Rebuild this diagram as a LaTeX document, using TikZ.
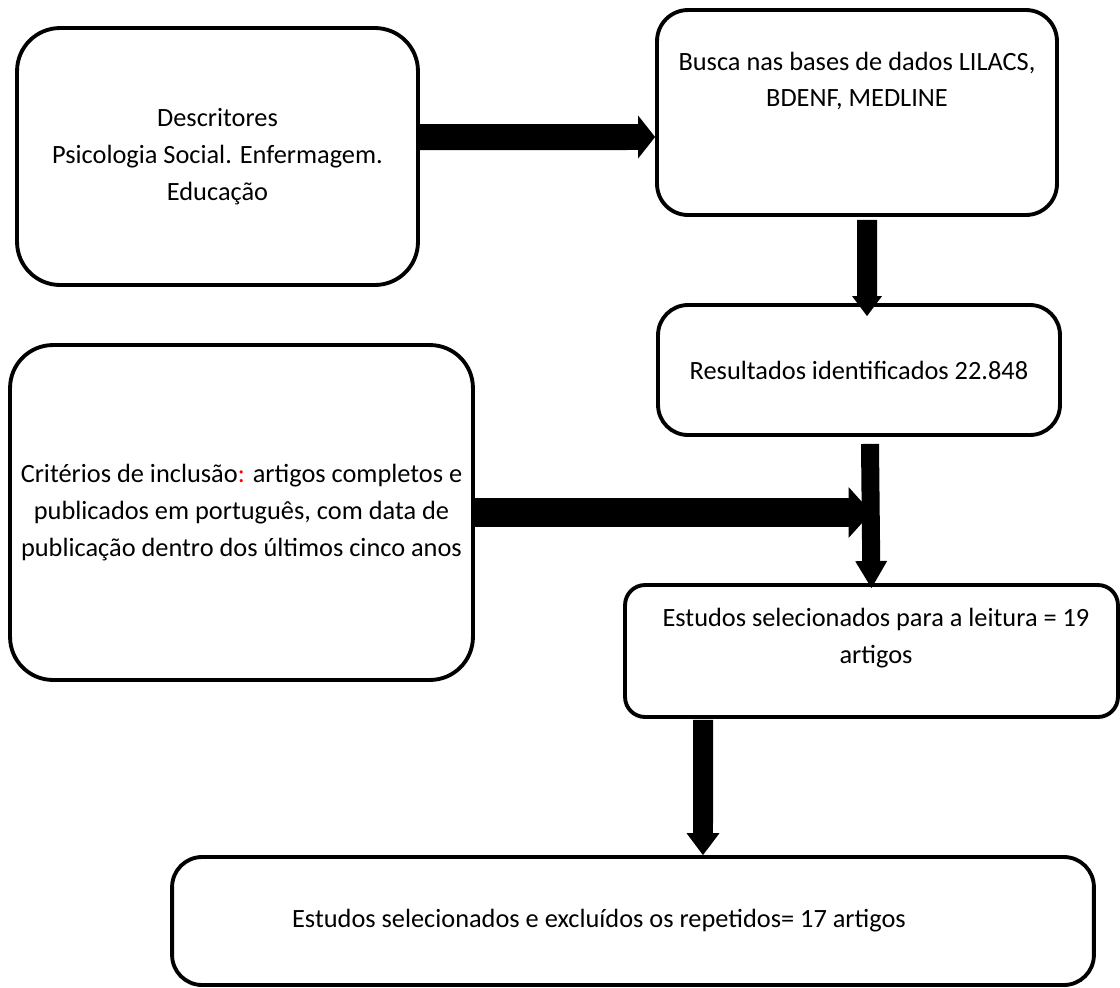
\documentclass[tikz,border=0pt]{standalone}
\usepackage{fontspec}
\setmainfont{Carlito}
\usepackage{xcolor}
\usetikzlibrary{arrows.meta,calc}
\tikzset{
  fbox/.style={draw=black,line width=2.2pt,rounded corners=#1,
               inner sep=0pt},
  fbox/.default=0.8cm,
  ftext/.style={align=center,inner sep=0pt},
  fatarrow/.style n args={3}{line width=#1,
               -{Triangle[length=#2,width=#3,line width=0pt]}},
}

\begin{document}
\begin{tikzpicture}[x=0.02cm,y=-0.02cm,
    every node/.style={font=\fontsize{15}{21}\selectfont}]
    \useasboundingbox (0,0) rectangle (1120,988);

    % caixas
    \node[fbox=0.86cm,ftext,minimum width=8.02cm,minimum height=5.14cm]
      (desc) at (217.5,156.5)
      {Descritores\\Psicologia Social. Enfermagem.\\Educação};
    \node[fbox=0.62cm,minimum width=8cm,minimum height=4.1cm,
      label={[ftext,yshift=0.63cm]center:{Busca nas bases de dados LILACS,\\BDENF, MEDLINE}}]
      (busca) at (857,112.5) {};
    \node[fbox=0.6cm,ftext,minimum width=8.04cm,minimum height=2.6cm]
      (result) at (859,370) {Resultados identificados 22.848};
    \node[fbox=0.86cm,ftext,minimum width=9.26cm,minimum height=6.7cm]
      (crit) at (241.5,512.5)
      {Critérios de inclusão{\color{red}:} artigos completos e\\
       publicados em português, com data de\\
       publicação dentro dos últimos cinco anos};
    \node[fbox=0.4cm,minimum width=9.86cm,minimum height=2.64cm,
      label={[ftext,yshift=0.25cm,xshift=0.09cm]center:{Estudos selecionados para a leitura = 19\\artigos}}]
      (leitura) at (871.5,651) {};
    \node[fbox=0.6cm,minimum width=18.44cm,minimum height=2.56cm,
      label={[ftext,xshift=-0.68cm]center:{Estudos selecionados e excluídos os repetidos= 17 artigos}}]
      (final) at (633,921) {};

    % setas
    \draw[fatarrow={0.52cm}{0.34cm}{0.86cm}]
      ([yshift=0.39cm]desc.east) -- ([yshift=-0.49cm]busca.west);
    \draw[fatarrow={0.4cm}{0.4cm}{0.6cm}]
      ([xshift=0.2cm,yshift=-0.06cm]busca.south) -- ([xshift=0.16cm,yshift=-0.26cm]result.north);
    \draw[fatarrow={0.58cm}{0.46cm}{1.02cm}]
      (crit.east) -- (crit.east -| leitura.north);
    \draw[fatarrow={0.36cm}{0.54cm}{0.64cm}]
      ([xshift=0.22cm,yshift=-0.14cm]result.south) -- ([yshift=-0.1cm]leitura.north);
    \draw[fatarrow={0.4cm}{0.44cm}{0.66cm}]
      ([xshift=-3.37cm,yshift=-0.02cm]leitura.south) -- ([xshift=1.4cm]final.north);
\end{tikzpicture}
\end{document}
